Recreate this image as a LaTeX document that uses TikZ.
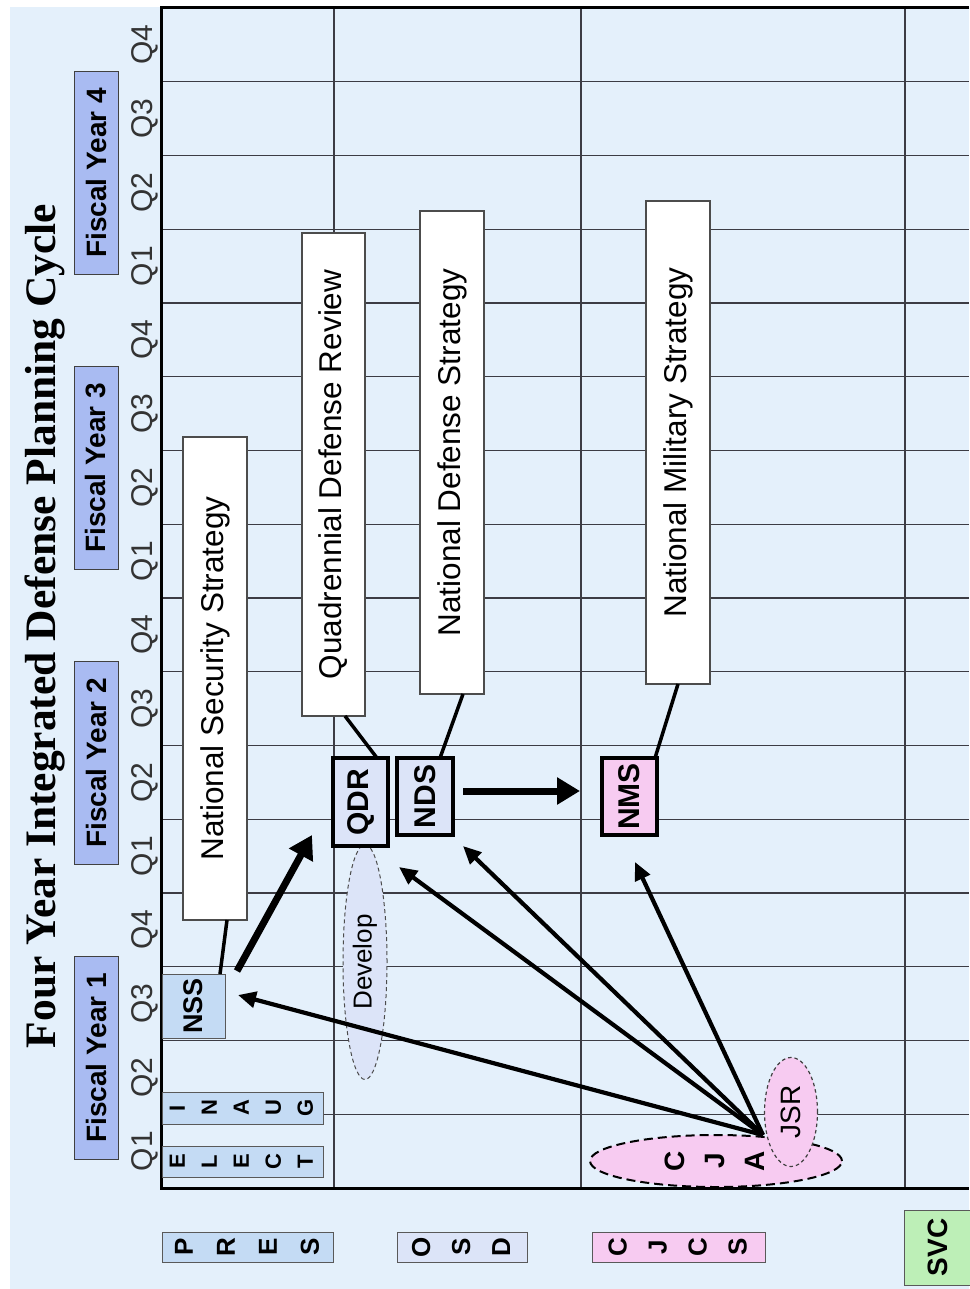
\documentclass[tikz,border=0pt]{standalone}
\usepackage{fontspec}
\setmainfont{Liberation Sans}
\newfontfamily\titlefont{Liberation Serif}
\usetikzlibrary{arrows.meta,shapes.geometric}

\definecolor{bg}{HTML}{E4F0FB}
\definecolor{gridc}{HTML}{3C3C44}
\definecolor{fyfill}{HTML}{A9BBF2}
\definecolor{presfill}{HTML}{C4DBF4}
\definecolor{osdfill}{HTML}{DCE4F8}
\definecolor{jcsfill}{HTML}{F7CBF1}
\definecolor{svcfill}{HTML}{BDEFB7}
\definecolor{qlabel}{HTML}{333333}

% upright word turned to read bottom to top
\newcommand{\upword}[1]{\rotatebox{90}{#1}}
% letters stacked one per line, then turned
\newcommand{\letterstack}[3]{\rotatebox{90}{\fontsize{#1}{#2}\selectfont\bfseries\begin{tabular}{@{}c@{}}#3\end{tabular}}}

\begin{document}
\begin{tikzpicture}[x=1pt,y=-1pt,
  every node/.style={inner sep=0pt, outer sep=0pt},
  gridline/.style={draw=gridc, line width=1.3pt},
  frame/.style={draw=black, line width=3pt, line join=miter},
  qlab/.style={text=qlabel, font=\fontsize{30}{34}\selectfont},
  fybox/.style={draw=black!75, fill=fyfill, line width=1pt, minimum width=44pt, minimum height=203pt,
    font=\bfseries\fontsize{28}{32}\selectfont},
  lbox/.style={draw=black!65, fill=presfill, line width=1pt},
  wbox/.style={draw=black!70, fill=white, line width=1.2pt, minimum width=64pt, minimum height=483pt,
    font=\fontsize{31.5}{36}\selectfont},
  keybox/.style={draw=black, line width=3.5pt, font=\bfseries\fontsize{30}{34}\selectfont},
  link/.style={draw=black, line width=3.5pt},
  thinarrow/.style={draw=black, line width=4.2pt, -{Triangle[length=18pt,width=16pt]}},
  thickarrow/.style={draw=black, line width=7pt, -{Triangle[length=23pt,width=26pt]}}
]
\useasboundingbox (0,0) rectangle (969,1289);
\fill[white] (0,0) rectangle (969,1289);
\fill[bg] (10,7) rectangle (969,1289);

% quarter grid
\foreach \k in {1,...,15}
  \draw[gridline] (161,{8+73.75*\k}) -- (969,{8+73.75*\k});
\foreach \x in {334,581,905}
  \draw[gridline] (\x,8) -- (\x,1188);
\draw[frame] (969,8) -- (161,8) -- (161,1188) -- (969,1188);

% quarter labels
\foreach \k in {0,...,15} {
  \pgfmathtruncatemacro\q{mod(\k,4)+1}
  \node[qlab] (q\k) at (145,{1188-73.75*(\k+0.5)}) {\upword{Q\q}};
}

% title
\node[font=\titlefont\bfseries\fontsize{43.5}{48}\selectfont] (title) at (45,626)
  {\upword{Four Year Integrated Defense Planning Cycle}};

% fiscal years
\foreach \n/\y in {1/1058,2/763,3/468,4/173}
  \node[fybox] (fy\n) at (96,\y) {\upword{Fiscal Year \n}};

% presidential milestones
\node[lbox, minimum width=161pt, minimum height=31pt] (elect) at (242.5,1161.5) {\letterstack{22}{32}{E\\L\\E\\C\\T}};
\node[lbox, minimum width=161pt, minimum height=32pt] (inaug) at (242.5,1108) {\letterstack{22}{32}{I\\N\\A\\U\\G}};
\node[lbox, minimum width=63pt, minimum height=64pt, font=\bfseries\fontsize{27}{30}\selectfont] (nss) at (193.5,1006) {\upword{NSS}};

% strategy documents
\node[wbox] (nsstxt) at (215,678.5) {\upword{National Security Strategy}};
\node[wbox, minimum width=63pt] (qdrtxt) at (333.5,474.5) {\upword{Quadrennial Defense Review}};
\node[wbox] (ndstxt) at (452,452.5) {\upword{National Defense Strategy}};
\node[wbox] (nmstxt) at (678,442.5) {\upword{National Military Strategy}};

% Develop phase
\node[ellipse, draw=black!70, dash pattern=on 4pt off 3pt, fill=osdfill, line width=1pt,
  minimum width=44pt, minimum height=235pt, font=\fontsize{26}{30}\selectfont] (develop) at (365,962) {\upword{Develop}};

% key products
\node[keybox, fill=osdfill, minimum width=55pt, minimum height=88pt] (qdr) at (360.5,802) {\upword{QDR}};
\node[keybox, fill=osdfill, minimum width=56pt, minimum height=77pt] (nds) at (425,796.5) {\upword{NDS}};
\node[keybox, fill=jcsfill, minimum width=55pt, minimum height=77pt] (nms) at (629.5,796.5) {\upword{NMS}};

% joint assessments
\node[ellipse, draw=black, dash pattern=on 9pt off 5pt, fill=jcsfill, line width=2pt,
  minimum width=252pt, minimum height=52pt] (cja) at (716,1161) {\letterstack{28}{40}{C\\J\\A}};
\node[ellipse, draw=black!75, dash pattern=on 3.5pt off 3pt, fill=jcsfill, line width=1.2pt,
  minimum width=53pt, minimum height=109pt, font=\fontsize{28}{32}\selectfont] (jsr) at (791,1112) {\upword{JSR}};

% organisation labels
\node[lbox, minimum width=171pt, minimum height=30pt] (pres) at (247.5,1247) {\letterstack{26}{42}{P\\R\\E\\S}};
\node[lbox, fill=osdfill, minimum width=130pt, minimum height=30pt] (osd) at (462,1247) {\letterstack{26}{40}{O\\S\\D}};
\node[lbox, fill=jcsfill, minimum width=173pt, minimum height=30pt] (cjcs) at (678.5,1247) {\letterstack{26}{40}{C\\J\\C\\S}};
\node[lbox, fill=svcfill, minimum width=68pt, minimum height=75pt, font=\bfseries\fontsize{28}{32}\selectfont] (svc) at (938,1247.5) {\upword{SVC}};

% links from products to documents
\draw[link] ([xshift=-5pt]nss.north east) -- ([xshift=-20pt]nsstxt.south east);
\draw[link] ([xshift=-11pt]qdr.north east) -- ([xshift=11.5pt]qdrtxt.south);
\draw[link] ([xshift=15pt]nds.north) -- ([xshift=11pt]ndstxt.south);
\draw[link] ([xshift=-2pt]nms.north east) -- (nmstxt.south);

% flow of strategy
\draw[thickarrow] ([xshift=12pt,yshift=3pt]nss.north east) -- ([xshift=-21pt,yshift=11pt]qdr.south west);
\draw[thickarrow] ([xshift=10pt,yshift=5.5pt]nds.east) -- ([xshift=-22pt,yshift=5.5pt]nms.west);

% assessment inputs
\coordinate (src) at ([xshift=47pt]cja.north);
\draw[thinarrow] (src) -- ([xshift=13pt,yshift=11pt]nss.east);
\draw[thinarrow] (src) -- ([xshift=11pt,yshift=-21pt]qdr.south east);
\draw[thinarrow] (src) -- ([xshift=10pt,yshift=-11pt]nds.south east);
\draw[thinarrow] (src) -- ([xshift=5.5pt,yshift=-27pt]nms.south);
\end{tikzpicture}
\end{document}
